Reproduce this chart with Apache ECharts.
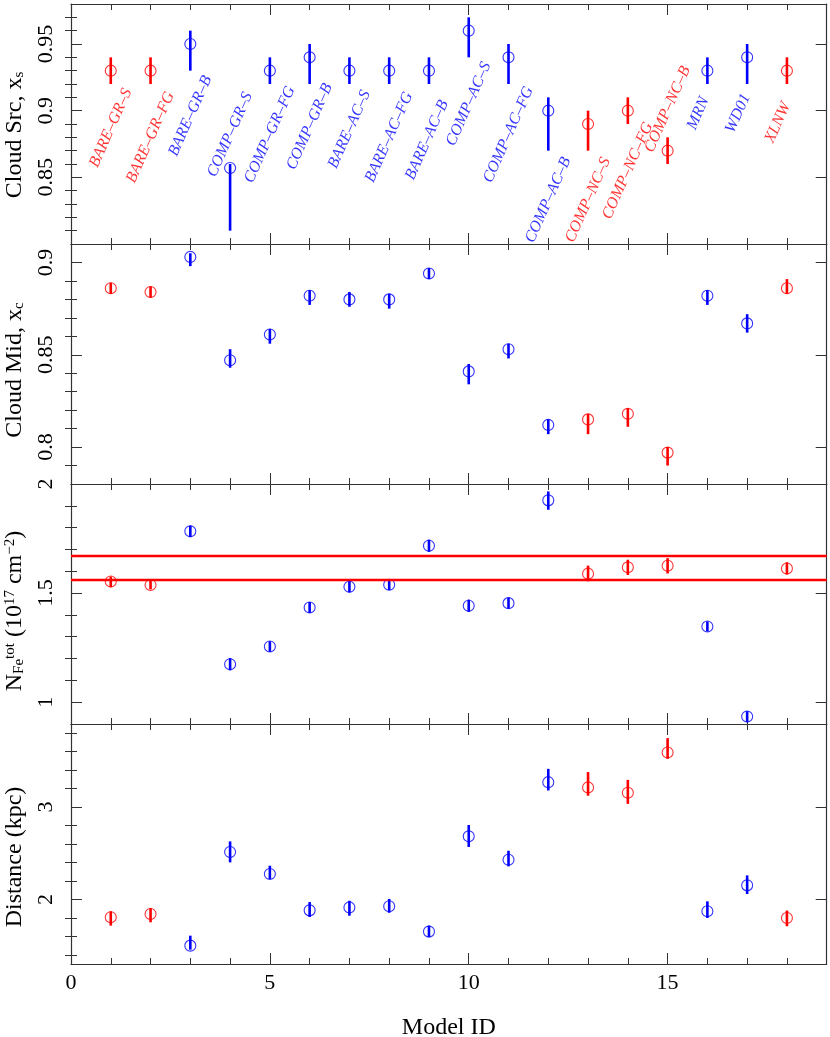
<!DOCTYPE html>
<html>
<head>
<meta charset="utf-8">
<script src="https://cdn.jsdelivr.net/npm/echarts@6/dist/echarts.min.js"></script>
<style>
  html, body { margin: 0; padding: 0; background: #fff; }
  #chart { width: 830px; height: 1037px; }
</style>
</head>
<body>
<div id="chart"></div>
<script>
// ---- data ----
const modelIds = [1, 2, 3, 4, 5, 6, 7, 8, 9, 10, 11, 12, 13, 14, 15, 16, 17, 18];
const modelNames = ['BARE–GR–S', 'BARE–GR–FG', 'BARE–GR–B', 'COMP–GR–S', 'COMP–GR–FG', 'COMP–GR–B',
  'BARE–AC–S', 'BARE–AC–FG', 'BARE–AC–B', 'COMP–AC–S', 'COMP–AC–FG', 'COMP–AC–B',
  'COMP–NC–S', 'COMP–NC–FG', 'COMP–NC–B', 'MRN', 'WD01', 'XLNW'];
const redModels = [1, 2, 13, 14, 15, 18];

// cloud source x_s
const srcVal = [0.93, 0.93, 0.95, 0.857, 0.93, 0.94, 0.93, 0.93, 0.93, 0.96, 0.94, 0.90, 0.89, 0.90, 0.87, 0.93, 0.94, 0.93];
const srcUp = [0.01, 0.01, 0.01, 0.003, 0.01, 0.01, 0.01, 0.01, 0.01, 0.01, 0.01, 0.01, 0.01, 0.01, 0.01, 0.01, 0.01, 0.01];
const srcDn = [0.01, 0.01, 0.02, 0.047, 0.01, 0.02, 0.01, 0.01, 0.01, 0.02, 0.02, 0.03, 0.02, 0.01, 0.01, 0.01, 0.02, 0.01];

// cloud mid x_c
const midVal = [0.886, 0.884, 0.903, 0.847, 0.861, 0.882, 0.880, 0.880, 0.894, 0.841, 0.853, 0.812, 0.815, 0.818, 0.797, 0.882, 0.867, 0.886];
const midUp = [0.003, 0.003, 0.002, 0.006, 0.003, 0.003, 0.004, 0.003, 0.003, 0.004, 0.003, 0.003, 0.003, 0.003, 0.003, 0.003, 0.005, 0.005];
const midDn = [0.003, 0.003, 0.005, 0.004, 0.005, 0.005, 0.004, 0.005, 0.003, 0.007, 0.005, 0.005, 0.008, 0.007, 0.007, 0.005, 0.005, 0.003];

// N_Fe tot (1e17 cm^-2)
const nfeVal = [1.553, 1.537, 1.783, 1.174, 1.255, 1.434, 1.529, 1.538, 1.717, 1.442, 1.454, 1.925, 1.589, 1.618, 1.625, 1.347, 0.934, 1.613];
const nfeUp = [0.023, 0.02, 0.026, 0.028, 0.024, 0.025, 0.026, 0.024, 0.028, 0.028, 0.025, 0.041, 0.037, 0.035, 0.035, 0.023, 0.024, 0.028];
const nfeDn = [0.026, 0.02, 0.026, 0.028, 0.024, 0.025, 0.026, 0.024, 0.028, 0.028, 0.025, 0.043, 0.035, 0.035, 0.035, 0.023, 0.024, 0.028];
const nfeRef = [1.56, 1.67];

// distance (kpc)
const distVal = [1.806, 1.842, 1.499, 2.513, 2.275, 1.881, 1.913, 1.925, 1.651, 2.683, 2.43, 3.27, 3.213, 3.155, 3.592, 1.871, 2.152, 1.799];
const distUp = [0.065, 0.065, 0.108, 0.115, 0.09, 0.09, 0.072, 0.08, 0.065, 0.123, 0.097, 0.144, 0.166, 0.14, 0.155, 0.108, 0.108, 0.08];
const distDn = [0.09, 0.09, 0.044, 0.112, 0.054, 0.072, 0.09, 0.07, 0.058, 0.115, 0.072, 0.09, 0.09, 0.12, 0.069, 0.072, 0.094, 0.09];

// model-name tags in the top panel (data units)
const tagX = [1, 2, 3, 4, 5, 6, 7, 8, 8.95, 10, 11, 12, 13, 14, 15, 15.77, 16.77, 17.77];
const tagY = [0.887, 0.880, 0.896, 0.882, 0.882, 0.888, 0.886, 0.880, 0.878, 0.905, 0.882, 0.833, 0.833, 0.855, 0.901, 0.898, 0.898, 0.891];

// ticks
const xMajor = [0, 5, 10, 15];
const xMinor = [1, 2, 3, 4, 6, 7, 8, 9, 11, 12, 13, 14, 16, 17, 18];
const srcMajor = [0.85, 0.9, 0.95];
const srcMinor = [0.81, 0.82, 0.83, 0.84, 0.86, 0.87, 0.88, 0.89, 0.91, 0.92, 0.93, 0.94, 0.96, 0.97];
const midMajor = [0.8, 0.85, 0.9];
const midMinor = [0.79, 0.81, 0.82, 0.83, 0.84, 0.86, 0.87, 0.88, 0.89];
const nfeMajor = [1, 1.5, 2];
const nfeMinor = [1.1, 1.2, 1.3, 1.4, 1.6, 1.7, 1.8, 1.9];
const distMajor = [2, 3];
const distMinor = [1.4, 1.6, 1.8, 2.2, 2.4, 2.6, 2.8, 3.2, 3.4, 3.6, 3.8];

// ---- style ----
const FONT = 'Liberation Serif';
const RED = '#ff0000';
const BLUE = '#0000ff';
const FRAME = '#333';
const nameRich = {
  sub: { fontSize: 15, lineHeight: 6, verticalAlign: 'bottom', fontFamily: FONT, color: '#000' },
  sup: { fontSize: 15, lineHeight: 6, verticalAlign: 'top', fontFamily: FONT, color: '#000' }
};

const panels = [
  { name: 'Cloud Src, x{sub|s}', min: 0.80, max: 0.98, major: srcMajor, minor: srcMinor, val: srcVal, up: srcUp, dn: srcDn, shift: 22 },
  { name: 'Cloud Mid, x{sub|c}', min: 0.78, max: 0.91, major: midMajor, minor: midMinor, val: midVal, up: midUp, dn: midDn, shift: 12 },
  { name: 'N{sub|Fe}{sup|tot} (10{sup|17} cm{sup|−2})', min: 0.9, max: 2.0, major: nfeMajor, minor: nfeMinor, val: nfeVal, up: nfeUp, dn: nfeDn, shift: 14 },
  { name: 'Distance (kpc)', min: 1.3, max: 3.9, major: distMajor, minor: distMinor, val: distVal, up: distUp, dn: distDn, shift: 26 }
];
const gridTop = [4, 244, 484, 724];

const chart = echarts.init(document.getElementById('chart'));

const grids = [], xAxes = [], yAxes = [], series = [];
const line = { onZero: false, lineStyle: { color: FRAME, width: 1.2 } };
const tickStyle = { color: FRAME, width: 1 };

panels.forEach((p, gi) => {
  const last = gi === panels.length - 1;
  grids.push({ left: 71, right: 3.3, top: gridTop[gi], height: 240, outerBoundsMode: 'none', containLabel: false });

  const xb = { gridIndex: gi, type: 'value', min: 0, max: 19, splitLine: { show: false } };
  xAxes.push(
    { ...xb, position: 'bottom', axisLine: line,
      axisTick: { inside: true, length: 11, customValues: xMajor, lineStyle: tickStyle },
      axisLabel: last ? { customValues: xMajor, margin: 8, fontFamily: FONT, fontSize: 22, color: '#000' } : { show: false },
      name: last ? 'Model ID' : '', nameLocation: 'middle', nameGap: 52,
      nameTextStyle: { fontFamily: FONT, fontSize: 24, color: '#000' } },
    { ...xb, position: 'bottom', axisLine: { show: false },
      axisTick: { inside: true, length: 6, customValues: xMinor, lineStyle: tickStyle }, axisLabel: { show: false } },
    { ...xb, position: 'top', axisLine: line,
      axisTick: { inside: true, length: 11, customValues: xMajor, lineStyle: tickStyle }, axisLabel: { show: false } },
    { ...xb, position: 'top', axisLine: { show: false },
      axisTick: { inside: true, length: 6, customValues: xMinor, lineStyle: tickStyle }, axisLabel: { show: false } }
  );

  const yb = { gridIndex: gi, type: 'value', min: p.min, max: p.max, splitLine: { show: false } };
  yAxes.push(
    { ...yb, position: 'left', axisLine: line,
      axisTick: { inside: true, length: 11, customValues: p.major, lineStyle: tickStyle },
      axisLabel: { customValues: p.major, rotate: 90, margin: 14, fontFamily: FONT, fontSize: 22, color: '#000' },
      name: p.name, nameLocation: 'middle', nameGap: 44,
      nameTextStyle: { fontFamily: FONT, fontSize: 24, lineHeight: 24, color: '#000', rich: nameRich,
        padding: [0, p.shift, 0, 0] } },
    { ...yb, position: 'left', axisLine: { show: false },
      axisTick: { inside: true, length: 6, customValues: p.minor, lineStyle: tickStyle }, axisLabel: { show: false } },
    { ...yb, position: 'right', axisLine: line,
      axisTick: { inside: true, length: 11, customValues: p.major, lineStyle: tickStyle }, axisLabel: { show: false } },
    { ...yb, position: 'right', axisLine: { show: false },
      axisTick: { inside: true, length: 6, customValues: p.minor, lineStyle: tickStyle }, axisLabel: { show: false } }
  );

  const ax = { xAxisIndex: gi * 4, yAxisIndex: gi * 4 };

  // error bars
  series.push({
    ...ax, type: 'custom', silent: true,
    data: modelIds.map((id, k) => [id, p.val[k], p.up[k], p.dn[k], redModels.includes(id) ? 1 : 0]),
    renderItem: (params, api) => {
      const x = api.value(0), v = api.value(1);
      const a = api.coord([x, v + api.value(2)]);
      const b = api.coord([x, v - api.value(3)]);
      return { type: 'line', shape: { x1: a[0], y1: a[1], x2: b[0], y2: b[1] },
        style: { stroke: api.value(4) ? RED : BLUE, lineWidth: 2.6 } };
    }
  });

  // open circles
  [[RED, true], [BLUE, false]].forEach(([c, isRed]) => {
    const s = {
      ...ax, type: 'scatter', symbol: 'circle', symbolSize: 11, silent: true,
      itemStyle: { color: 'rgba(0,0,0,0)', borderColor: c, borderWidth: 1.1 },
      data: modelIds.filter(id => redModels.includes(id) === isRed).map(id => [id, p.val[id - 1]])
    };
    if (gi === 2 && isRed) {
      s.markLine = { symbol: 'none', silent: true, label: { show: false },
        lineStyle: { color: RED, width: 2.4, type: 'solid' },
        data: nfeRef.map(v => ({ yAxis: v })) };
    }
    series.push(s);
  });
});

// model name tags
series.push({
  xAxisIndex: 0, yAxisIndex: 0, type: 'scatter', symbol: 'circle', symbolSize: 1, silent: true,
  itemStyle: { color: 'rgba(0,0,0,0)' },
  label: { show: true, position: 'inside', rotate: 66, formatter: '{b}',
    fontFamily: FONT, fontStyle: 'italic', fontSize: 16 },
  data: modelIds.map((id, k) => ({
    name: modelNames[k], value: [tagX[k], tagY[k]],
    label: { color: redModels.includes(id) ? RED : BLUE }
  }))
});

chart.setOption({
  animation: false,
  backgroundColor: '#fff',
  grid: grids,
  xAxis: xAxes,
  yAxis: yAxes,
  series: series
});
</script>
</body>
</html>
